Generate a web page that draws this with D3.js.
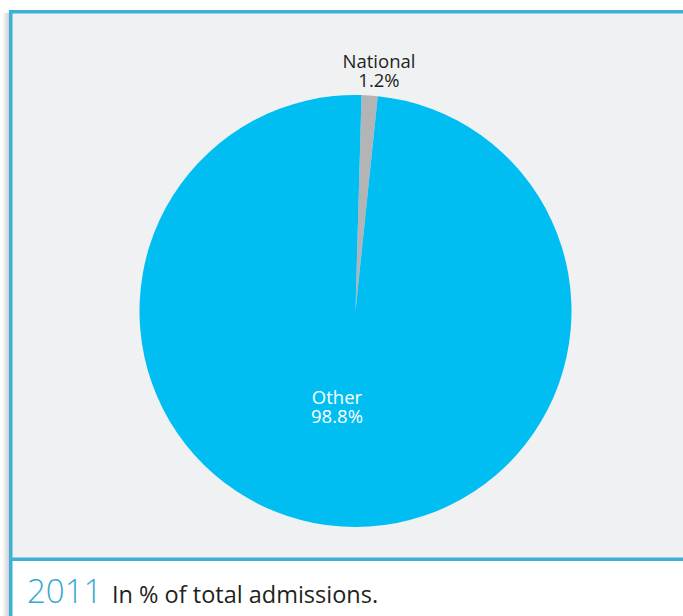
<!DOCTYPE html>
<html><head><meta charset="utf-8">
<script src="https://cdn.jsdelivr.net/npm/d3@7"></script>
<style>html,body{margin:0;padding:0;background:#fff;}svg{display:block;}</style>
</head><body>
<script>
const categories = ["National", "Other"];
const values = [1.2, 98.8];
const valueLabels = ["1.2%", "98.8%"];
const colors = ["#b4b4b6", "#00bef2"];
const titleYear = "2011";
const titleText = "In % of total admissions.";

const W = 683, H = 616;
const svg = d3.select("body").append("svg").attr("width", W).attr("height", H);
const defs = svg.append("defs");
const grad = defs.append("linearGradient").attr("id","sh").attr("x1","0").attr("x2","1");
grad.append("stop").attr("offset","0").attr("stop-color","#ffffff");
grad.append("stop").attr("offset","1").attr("stop-color","#c9cacc");

svg.append("rect").attr("x",0).attr("y",0).attr("width",W).attr("height",H).attr("fill","#fff");
// shadow
svg.append("rect").attr("x",2).attr("y",13).attr("width",8).attr("height",H-13).attr("fill","url(#sh)");
// panel
svg.append("rect").attr("x",12).attr("y",13).attr("width",W-12).attr("height",545).attr("fill","#f0f1f3");
// borders
const bc = "#3eafd6";
svg.append("rect").attr("x",9).attr("y",10).attr("width",W-9).attr("height",3.5).attr("fill",bc);
svg.append("rect").attr("x",9).attr("y",10).attr("width",3.5).attr("height",H-10).attr("fill",bc);
svg.append("rect").attr("x",9).attr("y",557.5).attr("width",W-9).attr("height",3.5).attr("fill",bc);

const cx = 355.5, cy = 311, r = 216;
const offset = 1.6 * Math.PI / 180;
const pie = d3.pie().sort(null).value(d => d).startAngle(offset).endAngle(offset + 2*Math.PI);
const arcs = pie(values);
const arc = d3.arc().innerRadius(0).outerRadius(r);
const g = svg.append("g").attr("transform", `translate(${cx},${cy})`);
g.selectAll("path").data(arcs).join("path").attr("d", arc).attr("fill", (d,i) => colors[i]);

const font = "'Open Sans', 'Noto Sans', sans-serif";
// labels
const lab = [
  {x: 379, y1: 67.5, y2: 86.5, fill: "#231f20"},
  {x: 337, y1: 403.5, y2: 422.5, fill: "#ffffff"}
];
categories.forEach((c,i) => {
  const t = svg.append("text").attr("text-anchor","middle").attr("font-family",font)
    .attr("font-size",18.5).attr("fill",lab[i].fill);
  t.append("tspan").attr("x",lab[i].x).attr("y",lab[i].y1).text(c);
  t.append("tspan").attr("x",lab[i].x).attr("y",lab[i].y2).text(valueLabels[i]);
});

svg.append("text").attr("x",27).attr("y",603).attr("font-family",font).attr("font-size",33)
  .attr("font-weight",300).attr("fill","#3aa8d0").text(titleYear);
svg.append("text").attr("x",112).attr("y",603).attr("font-family",font).attr("font-size",23.5)
  .attr("fill","#231f20").text(titleText);
</script>
</body></html>
